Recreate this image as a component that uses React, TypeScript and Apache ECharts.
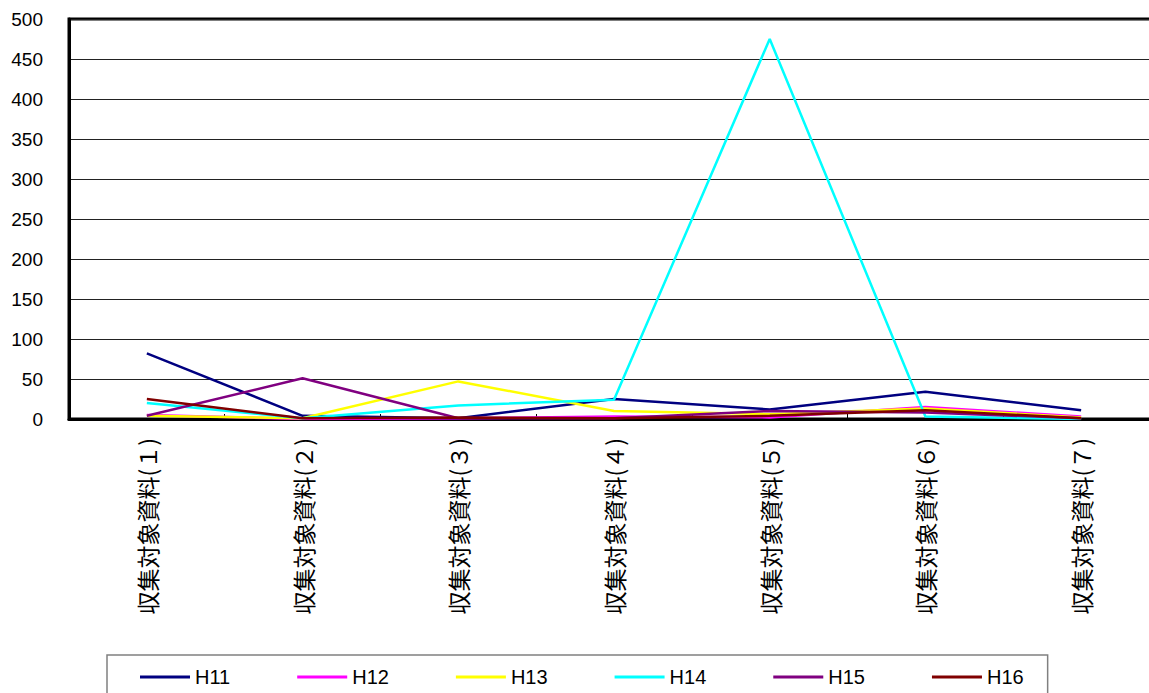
import React, { useEffect, useRef } from "react";
import * as echarts from "echarts";

const categories = [
  "収集対象資料(１)",
  "収集対象資料(２)",
  "収集対象資料(３)",
  "収集対象資料(４)",
  "収集対象資料(５)",
  "収集対象資料(６)",
  "収集対象資料(７)",
];

const seriesNames = ["H11", "H12", "H13", "H14", "H15", "H16"];
const seriesColors = ["#000080", "#FF00FF", "#FFFF00", "#00FFFF", "#800080", "#800000"];

const h11 = [82, 4, 1, 25, 12, 34, 11];
const h12 = [5, 0, 1, 3, 2, 15, 3];
const h13 = [4, 1, 47, 10, 6, 13, 2];
const h14 = [20, 1, 17, 24, 475, 3, 0];
const h15 = [4, 51, 1, 1, 10, 8, 1];
const h16 = [25, 1, 2, 1, 4, 11, 1];

const seriesValues = [h11, h12, h13, h14, h15, h16];

export default function App() {
  const ref = useRef<HTMLDivElement>(null);
  useEffect(() => {
    if (!ref.current) return;
    const chart = echarts.init(ref.current, undefined, { renderer: "svg" });
    chart.setOption({
      animation: false,
      backgroundColor: "#fff",
      grid: {
        left: 69,
        top: 19,
        width: 1090,
        bottom: 274,
        show: true,
        borderColor: "#000",
        borderWidth: 3,
      },
      legend: {
        data: seriesNames,
        left: 107,
        top: 655,
        orient: "horizontal",
        icon: "rect",
        itemWidth: 50,
        itemHeight: 3,
        itemGap: 67,
        padding: [12, 24, 30, 33],
        borderColor: "#808080",
        borderWidth: 1.5,
        textStyle: {
          fontSize: 20,
          color: "#000",
          fontFamily: "Liberation Sans, Arial, sans-serif",
        },
      },
      xAxis: {
        type: "category",
        data: categories,
        boundaryGap: true,
        axisLine: { lineStyle: { color: "#000", width: 3 } },
        axisTick: { show: true, inside: true, length: 5, lineStyle: { color: "#000" } },
        axisLabel: {
          rotate: 90,
          margin: 19,
          fontSize: 23,
          color: "#000",
          fontFamily: "Noto Sans CJK JP",
          interval: 0,
        },
        splitLine: { show: false },
      },
      yAxis: {
        type: "value",
        min: 0,
        max: 500,
        interval: 50,
        axisLine: { show: true, lineStyle: { color: "#000", width: 3 } },
        axisTick: { show: false },
        axisLabel: {
          margin: 26,
          fontSize: 19,
          color: "#000",
          fontFamily: "Liberation Sans, Arial, sans-serif",
        },
        splitLine: { show: true, lineStyle: { color: "#222", width: 1 } },
      },
      series: seriesNames.map((name, i) => ({
        name,
        type: "line",
        data: seriesValues[i],
        symbol: "none",
        showSymbol: false,
        color: seriesColors[i],
        lineStyle: { color: seriesColors[i], width: 2.5 },
      })),
    });
    return () => chart.dispose();
  }, []);
  return (
    <div
      style={{
        position: "absolute",
        left: 0,
        top: 0,
        width: 1149,
        height: 693,
        overflow: "hidden",
      }}
    >
      <div ref={ref} style={{ width: 1175, height: 693 }} />
    </div>
  );
}
